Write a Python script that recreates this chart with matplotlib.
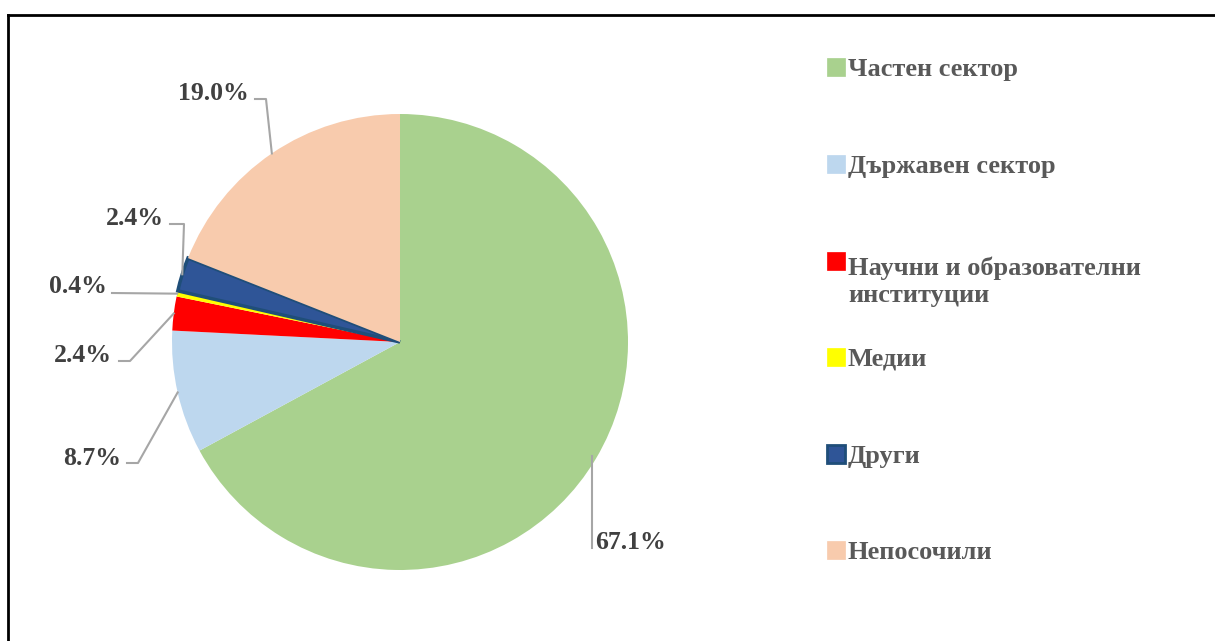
import matplotlib
matplotlib.use("Agg")
import matplotlib.pyplot as plt
from matplotlib.patches import Rectangle
from matplotlib.lines import Line2D
import numpy as np

labels = ["Частен сектор", "Държавен сектор", "Научни и образователни\nинституции",
          "Медии", "Други", "Непосочили"]
values = [67.1, 8.7, 2.4, 0.4, 2.4, 19.0]
colors = ["#a9d18e", "#bdd7ee", "#ff0000", "#ffff00", "#2f5597", "#f8cbad"]
edges = [None, None, None, None, "#1f4e79", None]

# label text anchors and leader-line elbows, in figure pixels (from top-left)
lab_pos = [(595, 549, "left"), (121, 465, "right"), (112, 362, "right"),
           (107, 293, "right"), (164, 225, "right"), (249, 100, "right")]
elbow = [(592, 456), (138, 463), (130, 361), (None, 293), (184, 224), (266, 99)]
line_end = [(592, 548), (127, 463), (119, 361), (112, 293), (170, 224), (255, 99)]

W, H = 1215, 641
fig = plt.figure(figsize=(W / 100, H / 100), dpi=100)
plt.rcParams['font.family'] = ['Liberation Serif', 'DejaVu Serif']

cx, cy, r = 400, 342, 228
ax = fig.add_axes([(cx - r) / W, (H - cy - r) / H, 2 * r / W, 2 * r / H])
wedges, _ = ax.pie(values, colors=colors, startangle=90, counterclock=False,
                   radius=1)
for w, ec in zip(wedges, edges):
    if ec:
        w.set_edgecolor(ec)
        w.set_linewidth(2.5)
ax.set_xlim(-1, 1)
ax.set_ylim(-1, 1)
ax.set_aspect("equal")


def px(x, y):
    return ((x - cx) / r, (cy - y) / r)


for i, w in enumerate(wedges):
    th = np.deg2rad((w.theta1 + w.theta2) / 2)
    ex, ey = np.cos(th), np.sin(th)
    xs, ys = [ex], [ey]
    if i == 0:
        xs, ys = [], []
    bx, by = elbow[i]
    if bx is not None:
        p = px(bx, by)
        xs.append(p[0]); ys.append(p[1])
    p = px(*line_end[i])
    xs.append(p[0]); ys.append(p[1])
    ax.add_line(Line2D(xs, ys, color="#a6a6a6", lw=1.5, clip_on=False))
    tx, ty, ha = lab_pos[i]
    t = px(tx, ty)
    ax.text(t[0], t[1], f"{values[i]:.1f}%", ha=ha, va="baseline",
            fontsize=18.5, fontweight="bold", color="#404040", clip_on=False)

# legend
fs = 19
leg_y = [76, 173, 270, 366, 463, 559]
for lab, c, ec, yb in zip(labels, colors, edges, leg_y):
    fig.patches.append(Rectangle((827 / W, (H - yb) / H), 18 / W, 18 / H,
                                 transform=fig.transFigure,
                                 facecolor=c, edgecolor=ec if ec else c,
                                 lw=2 if ec else 0.5))
    extra = lab.count("\n") * 1.2 * fs * 100 / 72
    fig.text(848 / W, (H - yb - extra) / H, lab, ha="left", va="baseline",
             fontsize=fs, fontweight="bold", color="#595959",
             linespacing=1.2)

# frame
fig.add_artist(Line2D([8 / W, 8 / W], [0, (H - 15) / H], color="black",
                      lw=2, transform=fig.transFigure))
fig.add_artist(Line2D([8 / W, 1], [(H - 15) / H, (H - 15) / H], color="black",
                      lw=2, transform=fig.transFigure))

fig.savefig("out.png", dpi=100)
